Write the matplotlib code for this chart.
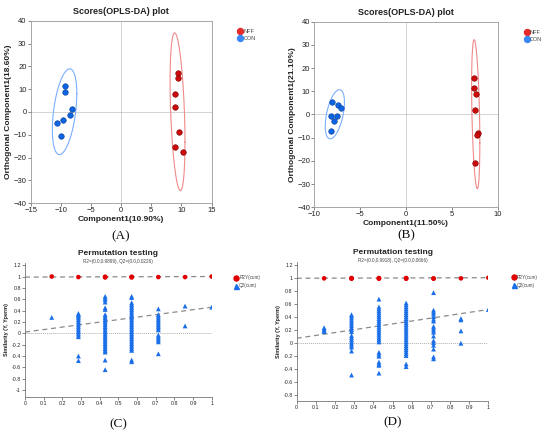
import numpy as np
import matplotlib
matplotlib.use("Agg")
import matplotlib.pyplot as plt
from matplotlib.lines import Line2D

plt.rcParams['font.family'] = ['Liberation Sans', 'DejaVu Sans']

# ---- scores plots (OPLS-DA) ----
a_nff_x = [9.39, 9.34, 8.95, 8.90, 9.56, 8.95, 10.33]
a_nff_y = [17.2, 14.9, 7.7, 2.3, -8.6, -15.3, -17.5]
a_con_x = [-9.28, -9.28, -8.23, -8.56, -9.67, -10.66, -10.0]
a_con_y = [11.4, 8.6, 1.3, -1.5, -3.6, -4.8, -10.5]

b_nff_x = [7.45, 7.42, 7.67, 7.49, 7.89, 7.78, 7.49]
b_nff_y = [15.7, 11.4, 9.0, 2.1, -7.8, -8.7, -20.9]
b_con_x = [-8.04, -7.38, -7.13, -8.22, -7.53, -7.82, -8.22]
b_con_y = [5.2, 4.1, 2.7, -0.5, -0.8, -2.7, -7.3]

# ---- permutation tests ----
perm_x = [0.143, 0.286, 0.429, 0.571, 0.714, 0.857, 1.0]

c_r2 = [[1.0], [0.99], [0.985, 0.99, 0.995], [0.985, 0.99, 0.995], [0.99], [0.99], [1.0]]
c_q2 = [
    [0.28],
    [0.35, 0.33, 0.31, 0.29, 0.27, 0.24, 0.21, 0.18, 0.15, 0.12, 0.09, 0.06, 0.03, 0.0,
     -0.03, -0.06, -0.40, -0.48],
    [0.65, 0.62, 0.59, 0.55, 0.45, 0.42, 0.33, 0.30, 0.27, 0.24, 0.21, 0.18, 0.15, 0.12,
     0.09, 0.06, 0.03, 0.0, -0.03, -0.06, -0.09, -0.12, -0.15, -0.18, -0.21, -0.24, -0.27,
     -0.30, -0.33, -0.47, -0.64],
    [0.65, 0.63, 0.54, 0.51, 0.48, 0.45, 0.42, 0.39, 0.36, 0.33, 0.30, 0.27, 0.24, 0.21,
     0.18, 0.15, 0.12, 0.09, 0.06, 0.03, 0.0, -0.03, -0.06, -0.09, -0.12, -0.15, -0.18,
     -0.21, -0.24, -0.27, -0.30, -0.47, -0.50],
    [0.43, 0.33, 0.30, 0.27, 0.24, 0.21, 0.18, 0.15, 0.12, 0.09, 0.06, -0.03, -0.06,
     -0.09, -0.12, -0.15, -0.36],
    [0.48, 0.13],
    [0.46],
]
c_r2_line = [0.9899, 1.0]
c_q2_line = [0.0226, 0.46]

d_r2 = [[0.99], [0.985, 0.99, 0.995], [0.985, 0.99, 0.995], [0.985, 0.99, 0.995], [0.985, 0.99], [0.99], [1.0]]
d_q2 = [
    [0.23, 0.21, 0.19, 0.17],
    [0.43, 0.41, 0.38, 0.35, 0.32, 0.29, 0.26, 0.23, 0.20, 0.17, 0.11, 0.08, 0.05, 0.02,
     -0.01, -0.04, -0.07, -0.13, -0.50],
    [0.67, 0.55, 0.52, 0.49, 0.46, 0.43, 0.40, 0.37, 0.34, 0.31, 0.28, 0.25, 0.22, 0.19,
     0.16, 0.13, 0.10, 0.07, 0.04, 0.01, -0.15, -0.18, -0.21, -0.30, -0.33, -0.35, -0.47],
    [0.61, 0.58, 0.55, 0.52, 0.49, 0.46, 0.43, 0.40, 0.37, 0.34, 0.31, 0.28, 0.25, 0.22,
     0.19, 0.16, 0.13, 0.10, 0.07, 0.04, 0.01, -0.02, -0.05, -0.08, -0.11, -0.14, -0.17,
     -0.20, -0.33, -0.37],
    [0.77, 0.50, 0.47, 0.44, 0.40, 0.36, 0.33, 0.25, 0.22, 0.19, 0.16, 0.10, 0.03, 0.0,
     -0.04, -0.10, -0.22, -0.25],
    [0.37, 0.35, 0.18, -0.01],
    [0.51],
]
d_r2_line = [0.9918, 1.0]
d_q2_line = [0.0666, 0.51]

RED, RED_EDGE, RED_ELL = "#cc0a0a", "#7a0000", "#f08a8a"
BLUE, BLUE_EDGE, BLUE_ELL = "#0d63e0", "#0a3f9a", "#7aaeff"
TXT = "#222222"


def conf_ellipse(ax, x, y, color):
    # 95% confidence ellipse from the group covariance
    x, y = np.asarray(x), np.asarray(y)
    cov = np.cov(x, y)
    L = np.linalg.cholesky(cov)
    t = np.linspace(0, 2 * np.pi, 200)
    circ = np.vstack([np.cos(t), np.sin(t)]) * np.sqrt(5.991)
    pts = L @ circ
    ax.plot(pts[0] + x.mean(), pts[1] + y.mean(), color=color, lw=0.8, zorder=2)


def scores(ax, nx, ny, cx, cy, xlim, xticks, xlab, ylab, letter, letter_y):
    conf_ellipse(ax, nx, ny, RED_ELL)
    conf_ellipse(ax, cx, cy, BLUE_ELL)
    ax.scatter(nx, ny, s=16, color=RED, edgecolors=RED_EDGE, linewidths=0.4, zorder=3)
    ax.scatter(cx, cy, s=16, color=BLUE, edgecolors=BLUE_EDGE, linewidths=0.4, zorder=3)
    ax.axhline(0, color="#999999", ls=(0, (1.2, 1.2)), lw=0.6, zorder=1)
    ax.axvline(0, color="#999999", ls=(0, (1.2, 1.2)), lw=0.6, zorder=1)
    ax.set_xlim(xlim)
    ax.set_ylim(-40, 40)
    ax.set_xticks(xticks)
    ax.set_yticks(range(-40, 41, 10))
    for s in ax.spines.values():
        s.set_color("#9a9a9a")
        s.set_linewidth(0.6)
    ax.tick_params(direction="out", length=2, width=0.5, labelsize=5.5, pad=1,
                   colors="#555555", labelcolor=TXT)
    ax.set_title("Scores(OPLS-DA) plot", fontsize=6.5, fontweight="bold", color=TXT, pad=5)
    ax.set_xlabel(xlab, fontsize=6, fontweight="bold", color=TXT, labelpad=1)
    ax.set_ylabel(ylab, fontsize=6, fontweight="bold", color=TXT, labelpad=1)
    h = [Line2D([], [], marker="o", ls="", ms=4.3, color="#e52a2a", mec="#e52a2a"),
         Line2D([], [], marker="o", ls="", ms=4.3, color="#3a88f5", mec="#3a88f5")]
    ax.legend(h, ["NFF", "CON"], loc="upper left", bbox_to_anchor=(1.13, 0.965),
              frameon=False, fontsize=4, handletextpad=0.1, labelspacing=0.35,
              borderaxespad=0, handlelength=1, labelcolor="#444444")
    ax.text(0.5, letter_y, letter, transform=ax.transAxes, ha="center", va="center",
            fontsize=9.5, family="Liberation Serif", color="#111111")


def perm(ax, r2, q2, r2_line, q2_line, ylim, yticks, sub, letter, letter_y):
    ax.plot([0, 1], r2_line, color="#8a8a8a", lw=0.9, ls=(0, (4, 3)), zorder=1)
    ax.plot([0, 1], q2_line, color="#8a8a8a", lw=0.9, ls=(0, (4, 3)), zorder=1)
    ax.plot([0, 1], [0, 0], color="#b0b0b0", lw=0.7, ls=(0, (1, 1)), zorder=1)
    for x, vals in zip(perm_x, r2):
        ax.scatter([x] * len(vals), vals, s=11, marker="o", color="#e00000",
                   edgecolors="none", zorder=3)
    for x, vals in zip(perm_x, q2):
        ax.scatter([x] * len(vals), vals, s=12, marker="^", color="#1a6fe8",
                   edgecolors="none", zorder=3)
    ax.set_xlim(0, 1)
    ax.set_ylim(ylim)
    ax.set_xticks([0, 0.1, 0.2, 0.3, 0.4, 0.5, 0.6, 0.7, 0.8, 0.9, 1])
    ax.set_xticklabels(["0", "0.1", "0.2", "0.3", "0.4", "0.5", "0.6", "0.7", "0.8", "0.9", "1"])
    ax.set_yticks(yticks)
    ax.set_yticklabels([("%g" % v) for v in yticks])
    for s in ["top", "right"]:
        ax.spines[s].set_visible(False)
    for s in ["left", "bottom"]:
        ax.spines[s].set_color("#777777")
        ax.spines[s].set_linewidth(0.6)
    ax.tick_params(direction="out", length=2, width=0.5, labelsize=3.8, pad=1,
                   colors="#555555", labelcolor=TXT)
    ax.text(0.5, 1.068, "Permutation testing", transform=ax.transAxes, ha="center",
            va="center", fontsize=6, fontweight="bold", color=TXT)
    ax.text(0.5, 1.012, sub, transform=ax.transAxes, ha="center", va="center",
            fontsize=3.3, color="#444444")
    ax.set_ylabel("Similarity (Y, Yperm)", fontsize=4, fontweight="bold", color=TXT, labelpad=2)
    h = [Line2D([], [], marker="o", ls="", ms=3.6, color="#e00000"),
         Line2D([], [], marker="^", ls="", ms=3.6, color="#1a6fe8")]
    ax.legend(h, ["R2Y(cum)", "Q2(cum)"], loc="upper left", bbox_to_anchor=(1.11, 0.92),
              frameon=False, fontsize=3.3, handletextpad=0.1, labelspacing=0.6,
              borderaxespad=0, handlelength=1, labelcolor="#444444")
    ax.text(0.5, letter_y, letter, transform=ax.transAxes, ha="center", va="center",
            fontsize=9.5, family="Liberation Serif", color="#111111")


fig = plt.figure(figsize=(5.5, 4.34), dpi=100)
ax_a = fig.add_axes([0.0558, 0.5316, 0.329, 0.4207])
ax_b = fig.add_axes([0.5715, 0.5224, 0.3335, 0.4276])
ax_c = fig.add_axes([0.0455, 0.0853, 0.3395, 0.309])
ax_d = fig.add_axes([0.5395, 0.076, 0.3484, 0.320])

scores(ax_a, a_nff_x, a_nff_y, a_con_x, a_con_y, (-15, 15), range(-15, 16, 5),
       "Component1(10.90%)", "Orthogonal Component1(18.60%)", "(A)", -0.179)
scores(ax_b, b_nff_x, b_nff_y, b_con_x, b_con_y, (-10, 10), range(-10, 11, 5),
       "Component1(11.50%)", "Orthogonal Component1(21.10%)", "(B)", -0.149)
perm(ax_c, c_r2, c_q2, c_r2_line, c_q2_line, (-1.12, 1.24),
     [-1, -0.8, -0.6, -0.4, -0.2, 0, 0.2, 0.4, 0.6, 0.8, 1, 1.2],
     "R2=(0.0,0.9899), Q2=(0.0,0.0226)", "(C)", -0.2)
perm(ax_d, d_r2, d_q2, d_r2_line, d_q2_line, (-0.9, 1.24),
     [-0.8, -0.6, -0.4, -0.2, 0, 0.2, 0.4, 0.6, 0.8, 1, 1.2],
     "R2=(0.0,0.9918), Q2=(0.0,0.0666)", "(D)", -0.15)

fig.savefig("out.png", dpi=100)
